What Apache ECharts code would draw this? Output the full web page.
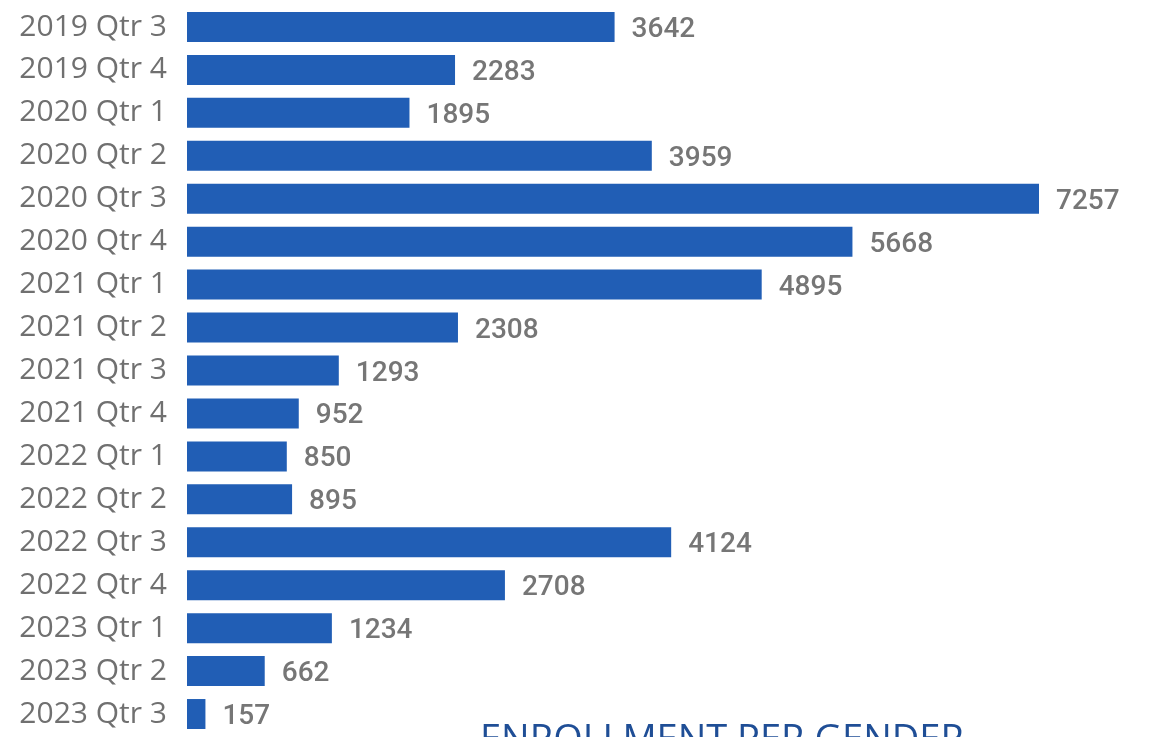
<!DOCTYPE html>
<html><head><meta charset="utf-8">
<script src="https://cdn.jsdelivr.net/npm/echarts@6/dist/echarts.min.js"></script>
<style>html,body{margin:0;padding:0;background:#fff}#c{width:1149px;height:737px}</style>
</head><body><div id="c"></div>
<script>
const categories = ["2019 Qtr 3","2019 Qtr 4","2020 Qtr 1","2020 Qtr 2","2020 Qtr 3","2020 Qtr 4","2021 Qtr 1","2021 Qtr 2","2021 Qtr 3","2021 Qtr 4","2022 Qtr 1","2022 Qtr 2","2022 Qtr 3","2022 Qtr 4","2023 Qtr 1","2023 Qtr 2","2023 Qtr 3"];
const values = [3642,2283,1895,3959,7257,5668,4895,2308,1293,952,850,895,4124,2708,1234,662,157];
const titleText = "ENROLLMENT PER GENDER";
const chart = echarts.init(document.getElementById('c'));
chart.setOption({
  animation:false,
  title:{text:titleText,left:475,top:717,textStyle:{fontFamily:'Open Sans',fontSize:38,fontWeight:'normal',color:'#1F4E96'}},
  grid:{left:187,top:5.5,width:852,height:730,containLabel:false},
  xAxis:{type:'value',min:0,max:7257,show:false},
  yAxis:{type:'category',data:categories,inverse:true,
    axisLine:{show:false},axisTick:{show:false},
    axisLabel:{margin:20,fontFamily:'Open Sans',fontSize:30,color:'#707070'}},
  series:[{type:'bar',data:values,barWidth:30,
    itemStyle:{color:'#215EB5'},
    label:{show:true,position:'right',distance:17,offset:[0,3],fontFamily:'Roboto',fontSize:28,fontWeight:500,color:'#767676'}}]
});
</script></body></html>
